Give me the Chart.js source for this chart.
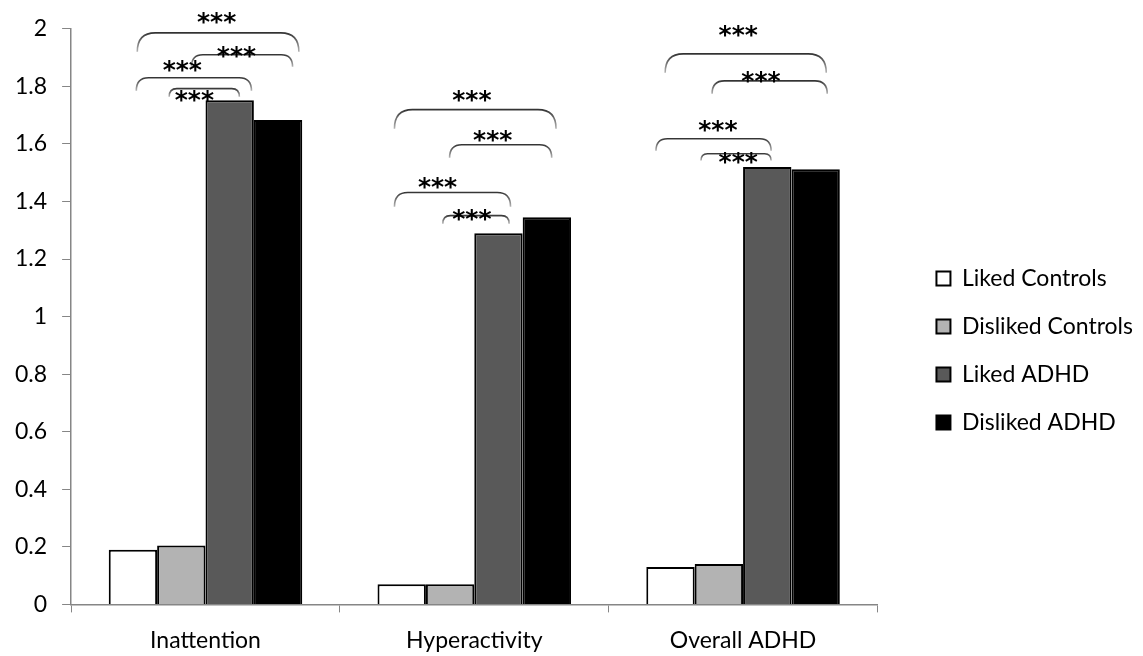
<!DOCTYPE html>
<html><head><meta charset="utf-8">
<script src="https://cdn.jsdelivr.net/npm/chart.js@4/dist/chart.umd.min.js"></script>
<style>html,body{margin:0;padding:0;background:#fff}</style>
</head><body>
<canvas id="c" width="1143" height="656"></canvas>
<script>
// ---- data ----
const categories = ['Inattention', 'Hyperactivity', 'Overall ADHD'];
const seriesNames = ['Liked Controls', 'Disliked Controls', 'Liked ADHD', 'Disliked ADHD'];
const likedControls    = [0.19, 0.07, 0.13];
const dislikedControls = [0.205, 0.07, 0.14];
const likedADHD        = [1.752, 1.29, 1.52];
const dislikedADHD     = [1.683, 1.345, 1.512];
const yTickValues = [0, 0.2, 0.4, 0.6, 0.8, 1, 1.2, 1.4, 1.6, 1.8, 2];
const yTickLabels = ['0', '0.2', '0.4', '0.6', '0.8', '1', '1.2', '1.4', '1.6', '1.8', '2'];
// significance brackets: category, span (in bar widths from group centre), top/foot values, label offset & value
const bracketCat   = [0, 0, 0, 0, 1, 1, 1, 1, 2, 2, 2, 2];
const bracketFrom  = [-1.41, -0.29, -1.43, -0.75, -1.65, -0.51, -1.65, -0.65, -1.61, -0.64, -1.80, -0.87];
const bracketTo    = [1.93, 1.80, 0.95, 0.70, 1.69, 1.60, 0.75, 0.72, 1.72, 1.74, 0.58, 0.58];
const bracketTop   = [1.986, 1.910, 1.830, 1.792, 1.719, 1.597, 1.431, 1.351, 1.913, 1.819, 1.618, 1.566];
const bracketFoot  = [1.920, 1.868, 1.785, 1.764, 1.653, 1.552, 1.382, 1.323, 1.847, 1.774, 1.576, 1.542];
const labelDx      = [0.23, 0.64, -0.48, -0.23, -0.05, 0.38, -0.76, -0.05, -0.10, 0.37, -0.52, -0.10];
const labelY       = [2.042, 1.924, 1.878, 1.771, 1.771, 1.635, 1.472, 1.358, 2.000, 1.840, 1.667, 1.556];
const bracketText  = ['***', '***', '***', '***', '***', '***', '***', '***', '***', '***', '***', '***'];

const FONT = 'Lato';
const AXIS_GREY = '#868686';
const LEGEND_DX = 34, LEGEND_DY = 3;

const bracketPlugin = {
  id: 'brackets',
  afterDatasetsDraw(chart) {
    const ctx = chart.ctx;
    const xs = chart.scales.x, ys = chart.scales.y;
    const barW = chart.getDatasetMeta(0).data[0].width;
    ctx.save();
    for (let i = 0; i < bracketCat.length; i++) {
      const cx = xs.getPixelForValue(bracketCat[i]);
      const x1 = cx + bracketFrom[i] * barW, x2 = cx + bracketTo[i] * barW;
      const yt = ys.getPixelForValue(bracketTop[i]), yf = ys.getPixelForValue(bracketFoot[i]);
      const r = (yf - yt) * 0.95;
      const g = ctx.createLinearGradient(0, yt - 1, 0, yf);
      g.addColorStop(0, '#2e2e2e');
      g.addColorStop(1, '#b4b4b4');
      ctx.strokeStyle = g;
      ctx.lineWidth = 1.6;
      ctx.beginPath();
      ctx.moveTo(x1, yf);
      ctx.quadraticCurveTo(x1, yt, x1 + r, yt);
      ctx.lineTo(x2 - r, yt);
      ctx.quadraticCurveTo(x2, yt, x2, yf);
      ctx.stroke();
      ctx.fillStyle = '#000';
      ctx.font = 'bold 25px "DejaVu Sans"';
      ctx.textAlign = 'center';
      ctx.textBaseline = 'alphabetic';
      const ty = ys.getPixelForValue(labelY[i]);
      ctx.fillText(bracketText[i], cx + labelDx[i] * barW, ty + 0.55 * 25);
    }
    ctx.restore();
  }
};

const legendShift = {
  id: 'legendShift',
  afterLayout(chart) {
    const lg = chart.legend;
    lg.left += LEGEND_DX; lg.right += LEGEND_DX;
    lg.top += LEGEND_DY; lg.bottom += LEGEND_DY;
  }
};

new Chart(document.getElementById('c'), {
  type: 'bar',
  data: {
    labels: categories,
    datasets: [
      { label: seriesNames[0], data: likedControls, backgroundColor: '#ffffff' },
      { label: seriesNames[1], data: dislikedControls, backgroundColor: '#b3b3b3' },
      { label: seriesNames[2], data: likedADHD, backgroundColor: '#595959' },
      { label: seriesNames[3], data: dislikedADHD, backgroundColor: '#000000' }
    ].map(d => Object.assign(d, { borderColor: '#000', borderWidth: 2, categoryPercentage: 0.72, barPercentage: 1 }))
  },
  options: {
    responsive: false,
    animation: false,
    devicePixelRatio: 1,
    layout: { padding: { left: 0, right: 34, top: 27, bottom: -12 } },
    plugins: {
      tooltip: { enabled: false },
      legend: {
        position: 'right',
        align: 'center',
        labels: {
          boxWidth: 14, boxHeight: 14, padding: 25,
          color: '#000',
          font: { family: FONT, size: 23 }
        }
      }
    },
    scales: {
      x: {
        z: 1,
        grid: { display: true, offset: true, drawOnChartArea: false, drawTicks: true, tickLength: 8, color: AXIS_GREY, lineWidth: 1 },
        border: { display: true, color: AXIS_GREY, width: 1.5 },
        ticks: { color: '#000', font: { family: FONT, size: 23 }, padding: 14 }
      },
      y: {
        min: 0, max: 2,
        afterBuildTicks(scale) { scale.ticks = yTickValues.map(v => ({ value: v })); },
        grid: { display: true, drawOnChartArea: false, drawTicks: true, tickLength: 9, color: AXIS_GREY, lineWidth: 1 },
        border: { display: true, color: AXIS_GREY, width: 1.5 },
        ticks: {
          color: '#000', font: { family: FONT, size: 23 }, padding: 15,
          callback: (v, i) => yTickLabels[yTickValues.indexOf(v)] ?? String(v)
        }
      }
    }
  },
  plugins: [bracketPlugin, legendShift]
});
</script>
</body></html>
